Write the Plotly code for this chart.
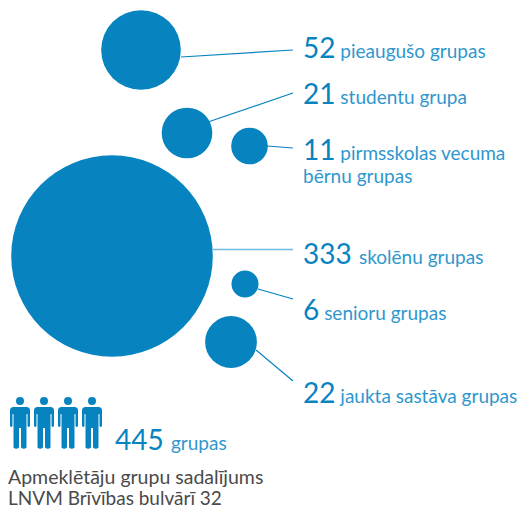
import plotly.graph_objects as go

GROUP_VALUES = [52, 21, 11, 333, 6, 22]
BUBBLE_X = [141, 187, 249.5, 112, 245, 231]
BUBBLE_Y = [50, 133, 146, 256, 284, 342]
LEADER_START_X = [181, 208, 267, 213, 258, 256]
LEADER_START_Y = [57, 122, 146, 249.5, 289, 350]
LEADER_END_X = [293, 293, 293, 293, 293, 293]
LEADER_END_Y = [50, 93, 148, 249.5, 299, 381]
LEADER_WIDTHS = [1.2, 1.2, 1.2, 1.4, 1.2, 1.2]
GROUP_LABELS = ["pieaugušo grupas", "studentu grupa", "pirmsskolas vecuma", "skolēnu grupas", "senioru grupas", "jaukta sastāva grupas"]
LABEL_X = [301, 301, 301, 301, 301, 301]
LABEL_Y = [47, 93, 149, 253, 309, 392]
LABEL_GAP = [" ", " ", " ", "&#8201; ", " ", " "]
ICON_X = [20, 44, 68, 92]
TOTAL = "445"

BLUE = "#0783bf"
LIGHT = "#2f97cd"
DARK = "#4a4a4a"
FONT = "Lato"
NUM = 28
LAB = 19

fig = go.Figure()
for i in range(len(GROUP_VALUES)):
    fig.add_trace(go.Scatter(
        x=[LEADER_START_X[i], LEADER_END_X[i]], y=[LEADER_START_Y[i], LEADER_END_Y[i]],
        mode="lines", line=dict(color=BLUE if i != 3 else "#6dbbe2", width=LEADER_WIDTHS[i]),
        hoverinfo="skip", showlegend=False))

fig.add_trace(go.Scatter(
    x=BUBBLE_X, y=BUBBLE_Y, mode="markers",
    marker=dict(size=GROUP_VALUES, sizemode="area", sizeref=1 / 61, color=BLUE, line=dict(width=0), opacity=1),
    showlegend=False, hoverinfo="skip"))


def rich(num, label, gap):
    return (f'<span style="font-size:{NUM}px;color:{BLUE}">{num}</span>{gap}'
            f'<span style="font-size:{LAB}px;color:{LIGHT}">{label}</span>')


annotations = []
for i in range(len(GROUP_VALUES)):
    annotations.append(dict(x=LABEL_X[i], y=LABEL_Y[i], text=rich(GROUP_VALUES[i], GROUP_LABELS[i], LABEL_GAP[i]),
                            xanchor="left", yanchor="middle", showarrow=False, xref="x", yref="y",
                            font=dict(family=FONT, size=LAB, color=LIGHT)))
annotations.append(dict(x=301, y=175, text="bērnu grupas", xanchor="left", yanchor="middle", showarrow=False,
                        font=dict(family=FONT, size=LAB, color=LIGHT)))
annotations.append(dict(x=113, y=439, text=f'<span style="font-size:{NUM}px;color:{BLUE}">{TOTAL}</span>&#8201; '
                        f'<span style="font-size:{LAB}px;color:{LIGHT}">grupas</span>',
                        xanchor="left", yanchor="middle", showarrow=False,
                        font=dict(family=FONT, size=LAB, color=LIGHT)))
annotations.append(dict(x=6, y=476, text="Apmeklētāju grupu sadalījums", xanchor="left", yanchor="middle",
                        showarrow=False, font=dict(family=FONT, size=19.5, color=DARK)))
annotations.append(dict(x=6, y=497.5, text="LNVM Brīvības bulvārī 32", xanchor="left", yanchor="middle",
                        showarrow=False, font=dict(family=FONT, size=19, color=DARK)))

shapes = []
for cx in ICON_X:
    shapes.append(dict(type="circle", xref="x", yref="y", x0=cx - 4, x1=cx + 4, y0=397, y1=405,
                       fillcolor=BLUE, line=dict(width=0)))
    path = (f"M{cx-6.5},407 L{cx+6.5},407 Q{cx+10},407 {cx+10},410.5 L{cx+10},426 "
            f"Q{cx+8.5},428 {cx+7.5},426 L{cx+7.5},414 L{cx+6.5},414 L{cx+6.5},447.5 "
            f"Q{cx+4},450 {cx+1},447.5 L{cx+1},428 L{cx-1},428 L{cx-1},447.5 "
            f"Q{cx-4},450 {cx-6.5},447.5 L{cx-6.5},414 L{cx-7.5},414 L{cx-7.5},426 "
            f"Q{cx-8.5},428 {cx-10},426 L{cx-10},410.5 Q{cx-10},407 {cx-6.5},407 Z")
    shapes.append(dict(type="path", path=path, xref="x", yref="y", fillcolor=BLUE, line=dict(width=0)))

fig.update_layout(
    width=519, height=506, margin=dict(l=0, r=0, t=0, b=0),
    paper_bgcolor="white", plot_bgcolor="white", showlegend=False,
    xaxis=dict(range=[0, 519], visible=False, fixedrange=True),
    yaxis=dict(range=[506, 0], visible=False, fixedrange=True),
    annotations=annotations, shapes=shapes, font=dict(family=FONT))

fig.write_html("out.html", config=dict(displayModeBar=False),
               post_script="document.body.style.margin='0';document.documentElement.style.overflow='hidden';")
